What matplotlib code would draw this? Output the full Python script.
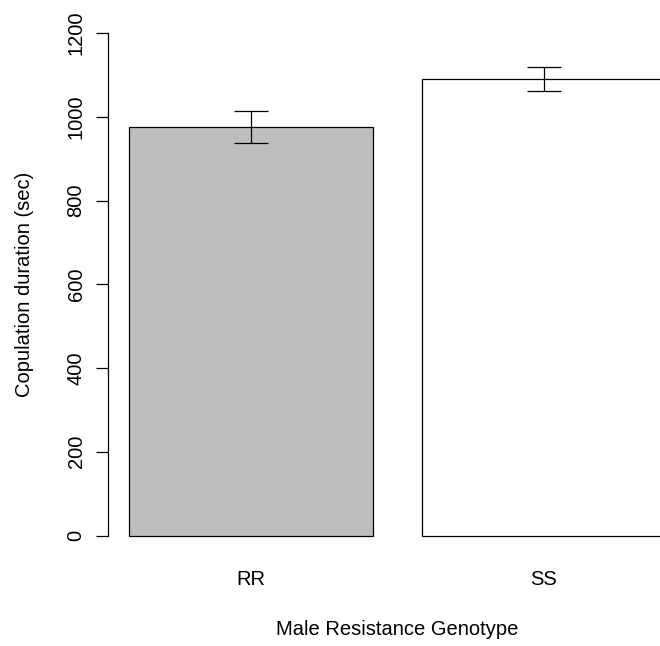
import matplotlib
matplotlib.use("Agg")
import matplotlib.pyplot as plt

# valores (média +/- erro padrão)
genotipos = ["RR", "SS"]
duracao = [976, 1090]
erro = [39, 28.5]
cores = ["#BEBEBE", "white"]
ticks_y = [0, 200, 400, 600, 800, 1000, 1200]


def gerar_grafico():
    plt.rcParams["font.family"] = ["Liberation Sans", "DejaVu Sans"]
    fig = plt.figure(figsize=(6.6, 6.46), dpi=100)
    # região do gráfico como no barplot do R (passa da borda direita)
    ax = fig.add_axes([107.5 / 660, 90.4 / 646, 579.5 / 660, 542.6 / 646])

    # posições no estilo do barplot do R: width=1, space=0.2
    centros = [0.2 + 0.5 + i * 1.2 for i in range(len(genotipos))]
    ax.bar(centros, duracao, width=1.0, color=cores, edgecolor="black", linewidth=0.9)
    ax.errorbar(centros, duracao, yerr=erro, fmt="none", ecolor="black",
                elinewidth=0.9, capsize=12.5, capthick=0.9)

    ax.set_xlim(0.112, 2.488)
    ax.set_ylim(-48, 1248)
    for lado in ["top", "right", "bottom"]:
        ax.spines[lado].set_visible(False)
    ax.spines["left"].set_bounds(0, 1200)
    ax.spines["left"].set_linewidth(0.9)

    ax.set_yticks(ticks_y)
    ax.set_yticklabels([str(t) for t in ticks_y], rotation=90, va="center")
    ax.tick_params(axis="y", length=8.6, width=0.9, pad=7.2, labelsize=14.5)
    ax.set_xticks(centros)
    ax.set_xticklabels(genotipos)
    ax.tick_params(axis="x", length=0, pad=10.6, labelsize=14.5)

    ax.set_xlabel("Male Resistance Genotype", fontsize=14.5)
    ax.xaxis.set_label_coords(0.5, -0.119)
    ax.set_ylabel("Copulation duration (sec)", fontsize=14.5)
    ax.yaxis.set_label_coords(-0.1275, 0.5)

    fig.savefig("out.png", dpi=100)


if __name__ == "__main__":
    gerar_grafico()
